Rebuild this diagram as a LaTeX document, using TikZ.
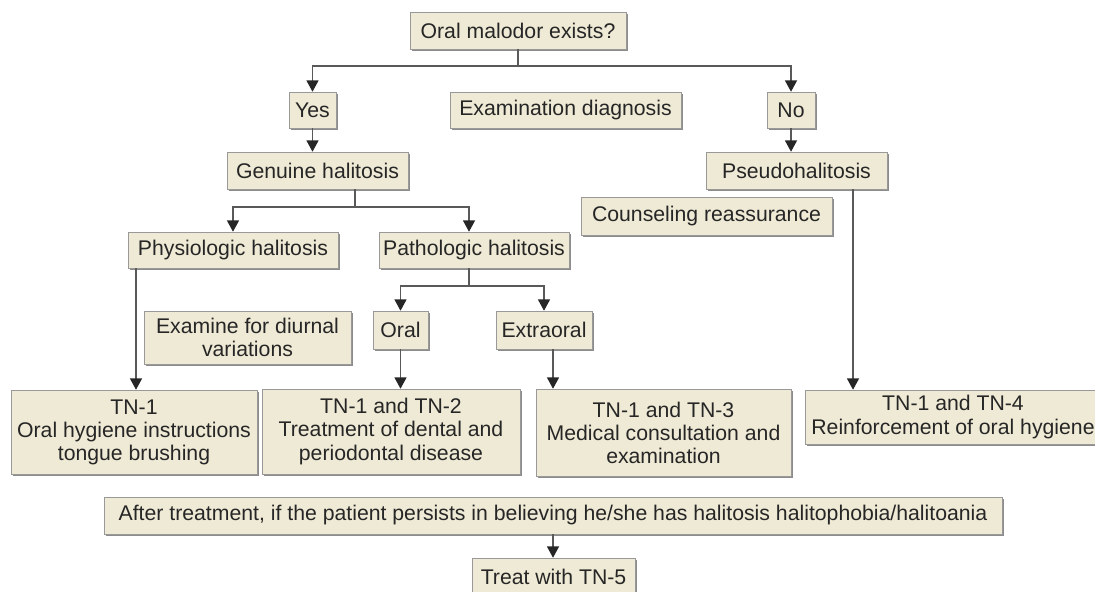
\documentclass[tikz,border=0pt]{standalone}
\usepackage{fontspec}
\setmainfont{Liberation Sans}
\usetikzlibrary{positioning,arrows.meta,shadows}
\definecolor{paper}{RGB}{239,234,213}
\definecolor{ink}{RGB}{38,38,38}
\tikzset{
    StepBox/.style={draw=black!40, fill=paper, rectangle, text=ink, align=center, inner sep=1pt,
        drop shadow={shadow xshift=1.3pt, shadow yshift=-1.3pt, fill=black!45, opacity=1}},
    Line/.style={draw=black!65, line width=0.9pt},
    Link/.style={Line, -{Triangle[width=8.5pt,length=8pt,color=black!85]}}
    }
\begin{document}
\begin{tikzpicture}[x=0.025cm, y=-0.025cm, font={\fontsize{15.1}{16.4}\selectfont}]

\useasboundingbox (0,0) rectangle (1095,591);

\node[StepBox, minimum width=5.4cm, minimum height=0.925cm] (Malodor) at (518,30.5) {Oral malodor exists?};

\node[StepBox, minimum width=1.175cm, minimum height=0.9cm] (Yes) at (312.5,110) {Yes};
\node[StepBox, minimum width=5.775cm, minimum height=0.9cm] (ExamDiag) at (565.5,110) {Examination diagnosis};
\node[StepBox, minimum width=1.2cm, minimum height=0.9cm] (No) at (791,110) {No};

\node[StepBox, minimum width=4.525cm, minimum height=0.925cm] (Genuine) at (317.5,170.5) {Genuine halitosis};
\node[StepBox, minimum width=4.525cm, minimum height=0.925cm] (Pseudo) at (796.5,170.5) {Pseudohalitosis};
\node[StepBox, minimum width=6.275cm, minimum height=0.95cm] (Counsel) at (706.5,216) {Counseling reassurance};

\node[StepBox, minimum width=5.25cm, minimum height=0.9cm] (Physio) at (233,250) {Physiologic halitosis};
\node[StepBox, minimum width=4.75cm, minimum height=0.9cm] (Patho) at (474,250) {Pathologic halitosis};

\node[StepBox, minimum width=5.175cm, minimum height=1.325cm] (Diurnal) at (247.5,337.5) {Examine for diurnal\\variations};
\node[StepBox, minimum width=1.375cm, minimum height=0.95cm] (Oral) at (400.5,330) {Oral};
\node[StepBox, minimum width=2.4cm, minimum height=0.95cm] (Extra) at (544,330) {Extraoral};

\node[StepBox, minimum width=6.15cm, minimum height=2.1cm] (TN1) at (134,432) {TN-1\\Oral hygiene instructions\\tongue brushing};
\node[StepBox, minimum width=6.45cm, minimum height=2.125cm] (TN2) at (391,431.5) {TN-1 and TN-2\\Treatment of dental and\\periodontal disease};
\node[StepBox, minimum width=6.375cm, minimum height=2.175cm] (TN3) at (663.5,432.5) {TN-1 and TN-3\\Medical consultation and\\examination};
\node[StepBox, minimum width=7.4cm, minimum height=1.35cm] (TN4) at (953,417) {TN-1 and TN-4\\Reinforcement of oral hygiene};

\node[StepBox, minimum width=22.45cm, minimum height=0.925cm] (After) at (553,515.5) {After treatment, if the patient persists in believing he/she has halitosis halitophobia/halitoania};
\node[StepBox, minimum width=4.075cm, minimum height=0.95cm] (TN5) at (553.5,577) {Treat with TN-5};

% junctions
\coordinate (J1) at (518,66);
\coordinate (J2) at (355,207);
\coordinate (J3) at (469,286);
\coordinate (K1) at (136,0);
\coordinate (K3) at (553,0);
\coordinate (K4) at (853,0);

\draw[Line] (Malodor.south) -- (J1);
\draw[Link] (J1) -| (Yes.north);
\draw[Link] (J1) -| (No.north);
\draw[Link] (Yes.south) -- (Yes.south |- Genuine.north);
\draw[Link] (No.south) -- (No.south |- Pseudo.north);

\draw[Line] (J2 |- Genuine.south) -- (J2);
\draw[Link] (J2) -| (Physio.north);
\draw[Link] (J2) -| (J3 |- Patho.north);

\draw[Line] (J3 |- Patho.south) -- (J3);
\draw[Link] (J3) -| (Oral.north);
\draw[Link] (J3) -| (Extra.north);

\draw[Link] (K1 |- Physio.south) -- (K1 |- TN1.north);
\draw[Link] (Oral.south) -- (Oral.south |- TN2.north);
\draw[Link] (K3 |- Extra.south) -- (K3 |- TN3.north);
\draw[Link] (K4 |- Pseudo.south) -- (K4 |- TN4.north);
\draw[Link] (After.south) -- (After.south |- TN5.north);

\end{tikzpicture}
\end{document}
